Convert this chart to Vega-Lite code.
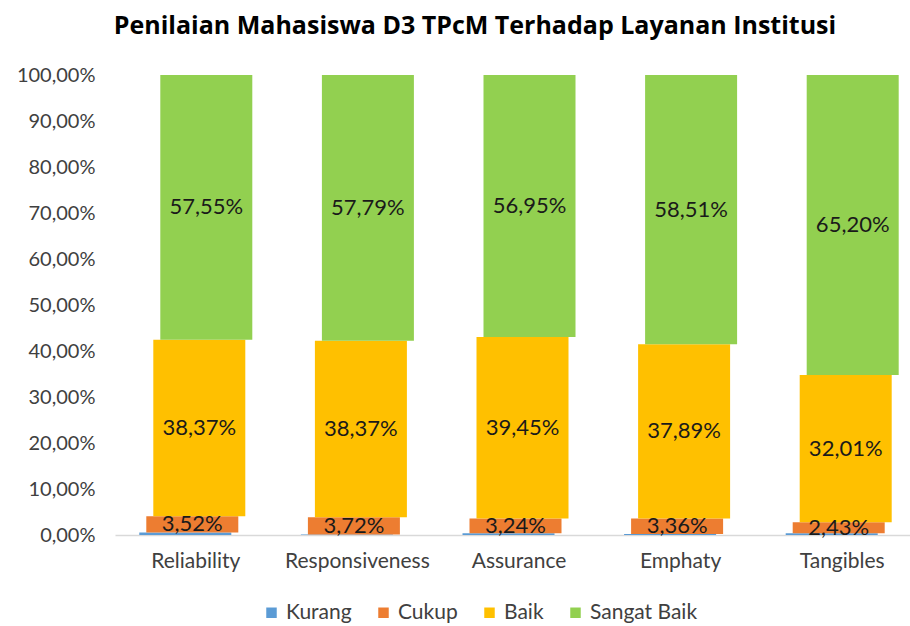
{
  "$schema": "https://vega.github.io/schema/vega-lite/v6.json",
  "width": 808,
  "height": 460,
  "autosize": {"type": "none"},
  "padding": {"left": 115, "top": 75, "right": 0, "bottom": 91},
  "background": "white",
  "title": {"text": "Penilaian Mahasiswa D3 TPcM Terhadap Layanan Institusi", "fontSize": 25, "font": "Open Sans", "fontWeight": "bold", "color": "#000000", "anchor": "middle", "frame": "group", "dx": -44, "offset": 26},
  "config": {
    "locale": {"number": {"decimal": ",", "thousands": ".", "grouping": [3], "currency": ["Rp", ""]}},
    "font": "Lato",
    "view": {"stroke": null}
  },
  "data": {"values": [
    {"category": "Reliability", "series": "Kurang", "value": 0.0056},
    {"category": "Reliability", "series": "Cukup", "value": 0.0352},
    {"category": "Reliability", "series": "Baik", "value": 0.3837},
    {"category": "Reliability", "series": "Sangat Baik", "value": 0.5755},
    {"category": "Responsiveness", "series": "Kurang", "value": 0.0012},
    {"category": "Responsiveness", "series": "Cukup", "value": 0.0372},
    {"category": "Responsiveness", "series": "Baik", "value": 0.3837},
    {"category": "Responsiveness", "series": "Sangat Baik", "value": 0.5779},
    {"category": "Assurance", "series": "Kurang", "value": 0.0036},
    {"category": "Assurance", "series": "Cukup", "value": 0.0324},
    {"category": "Assurance", "series": "Baik", "value": 0.3945},
    {"category": "Assurance", "series": "Sangat Baik", "value": 0.5695},
    {"category": "Emphaty", "series": "Kurang", "value": 0.0024},
    {"category": "Emphaty", "series": "Cukup", "value": 0.0336},
    {"category": "Emphaty", "series": "Baik", "value": 0.3789},
    {"category": "Emphaty", "series": "Sangat Baik", "value": 0.5851},
    {"category": "Tangibles", "series": "Kurang", "value": 0.0036},
    {"category": "Tangibles", "series": "Cukup", "value": 0.0243},
    {"category": "Tangibles", "series": "Baik", "value": 0.3201},
    {"category": "Tangibles", "series": "Sangat Baik", "value": 0.6520}
  ]},
  "transform": [
    {"window": [{"op": "row_number", "as": "k"}], "groupby": ["category"]},
    {"stack": "value", "groupby": ["category"], "sort": [{"field": "k", "order": "ascending"}], "as": ["y0", "y1"]},
    {"calculate": "(datum.y0 + datum.y1) / 2", "as": "ymid"}
  ],
  "encoding": {
    "x": {"field": "category", "type": "nominal", "sort": null,
      "scale": {"paddingInner": 0, "paddingOuter": 0},
      "axis": {"title": null, "labelAngle": 0, "labelFontSize": 21, "labelColor": "#404040", "labelPadding": 15, "ticks": false, "domainColor": "#d9d9d9", "domainWidth": 1.5}},
    "xOffset": {"field": "series", "type": "nominal", "sort": ["Kurang", "Cukup", "Baik", "Sangat Baik"],
      "scale": {"type": "point", "range": [66.8, 94.8]}}
  },
  "layer": [
    {
      "mark": {"type": "bar", "width": 92},
      "encoding": {
        "y": {"field": "y0", "type": "quantitative",
          "scale": {"domain": [0, 1], "nice": false},
          "axis": {"title": null, "format": ".2%", "values": [0, 0.1, 0.2, 0.3, 0.4, 0.5, 0.6, 0.7, 0.8, 0.9, 1], "domain": false, "ticks": false, "grid": false, "labelFontSize": 20, "labelColor": "#404040", "labelPadding": 20}},
        "y2": {"field": "y1"},
        "color": {"field": "series", "type": "nominal",
          "scale": {"domain": ["Kurang", "Cukup", "Baik", "Sangat Baik"], "range": ["#5B9BD5", "#ED7D31", "#FFC000", "#92D050"]},
          "legend": {"title": null, "orient": "none", "direction": "horizontal", "legendX": 146, "legendY": 527, "symbolType": "square", "symbolSize": 110, "symbolStrokeWidth": 0, "labelFontSize": 21, "labelColor": "#404040", "columnPadding": 21, "symbolOffset": 0, "labelOffset": 4}}
      }
    },
    {
      "transform": [{"filter": "datum.series != 'Kurang'"}],
      "mark": {"type": "text", "fontSize": 22, "color": "#1a1a1a"},
      "encoding": {
        "y": {"field": "ymid", "type": "quantitative"},
        "text": {"field": "value", "type": "quantitative", "format": ".2%"}
      }
    }
  ]
}
